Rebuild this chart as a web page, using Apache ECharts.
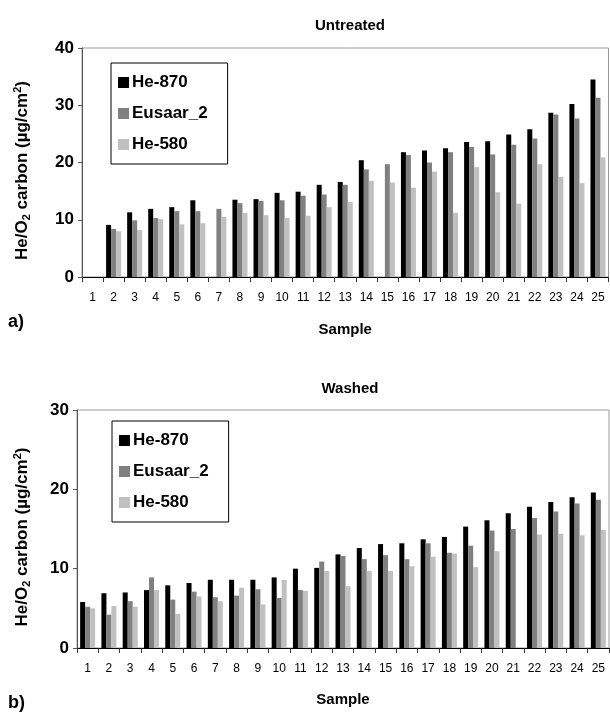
<!DOCTYPE html>
<html>
<head>
<meta charset="utf-8">
<script src="https://cdn.jsdelivr.net/npm/echarts@6/dist/echarts.min.js"></script>
<style>html,body{margin:0;padding:0;background:#fff;}#c{width:610px;height:713px;}</style>
</head>
<body>
<div id="c"></div>
<script>
var categories = ['1','2','3','4','5','6','7','8','9','10','11','12','13','14','15','16','17','18','19','20','21','22','23','24','25'];
var seriesNames = ['He-870', 'Eusaar_2', 'He-580'];
var untreatedHe870 = [null, 9.1, 11.3, 11.9, 12.2, 13.4, null, 13.5, 13.6, 14.7, 14.9, 16.1, 16.6, 20.4, null, 21.8, 22.1, 22.5, 23.6, 23.7, 24.9, 25.8, 28.7, 30.2, 34.5];
var untreatedEusaar2 = [null, 8.4, 9.9, 10.3, 11.5, 11.5, 11.9, 12.9, 13.3, 13.4, 14.2, 14.4, 16.1, 18.8, 19.7, 21.3, 20.0, 21.8, 22.7, 21.4, 23.1, 24.2, 28.4, 27.7, 31.3];
var untreatedHe580 = [null, 8.0, 8.2, 10.1, 9.2, 9.4, 10.5, 11.2, 10.8, 10.3, 10.7, 12.2, 13.1, 16.8, 16.5, 15.6, 18.4, 11.2, 19.2, 14.8, 12.8, 19.7, 17.5, 16.4, 20.9];
var washedHe870 = [5.8, 6.9, 7.0, 7.3, 7.9, 8.2, 8.6, 8.6, 8.6, 8.9, 10.0, 10.1, 11.8, 12.6, 13.1, 13.2, 13.7, 14.0, 15.3, 16.1, 17.0, 17.8, 18.4, 19.0, 19.6];
var washedEusaar2 = [5.2, 4.2, 5.9, 8.9, 6.1, 7.1, 6.4, 6.6, 7.4, 6.3, 7.3, 10.9, 11.6, 11.2, 11.7, 11.2, 13.2, 12.0, 12.9, 14.8, 15.0, 16.4, 17.2, 18.2, 18.7];
var washedHe580 = [5.0, 5.3, 5.2, 7.3, 4.3, 6.5, 5.9, 7.6, 5.5, 8.6, 7.2, 9.7, 7.8, 9.7, 9.7, 10.3, 11.5, 11.9, 10.2, 12.2, null, 14.3, 14.4, 14.2, 14.9];
var yTicksTop = {min: 0, max: 40, interval: 10};
var yTicksBottom = {min: 0, max: 30, interval: 10};

var colors = ['#000000', '#808080', '#c0c0c0'];
var FONT = 'Liberation Sans, Arial, sans-serif';

var chart = echarts.init(document.getElementById('c'), null, {renderer: 'canvas'});

function xAxis(gridIndex, gap) {
  return {
    type: 'category', gridIndex: gridIndex, data: categories, boundaryGap: true,
    axisLine: {lineStyle: {color: '#000', width: 1}},
    axisTick: {show: true, alignWithLabel: false, length: 5, lineStyle: {color: '#333'}},
    axisLabel: {fontFamily: FONT, fontSize: 12, color: '#000', margin: 15, interval: 0},
    name: 'Sample', nameLocation: 'middle', nameGap: gap,
    nameTextStyle: {fontFamily: FONT, fontSize: 15, fontWeight: 'bold', color: '#000'}
  };
}
var yName = 'He/O{sub|2} carbon (\u00b5g/cm{sup|2})';
function yAxis(gridIndex, t, gap) {
  return {
    type: 'value', gridIndex: gridIndex, min: t.min, max: t.max, interval: t.interval,
    splitLine: {show: false},
    axisLine: {show: true, lineStyle: {color: '#555', width: 1}},
    axisTick: {show: true, length: 4, lineStyle: {color: '#555'}},
    axisLabel: {fontFamily: FONT, fontSize: 17, fontWeight: 'bold', color: '#000', margin: 8},
    name: yName, nameLocation: 'middle', nameGap: gap, nameRotate: 90,
    nameTextStyle: {
      fontFamily: FONT, fontSize: 17, fontWeight: 'bold', color: '#000', padding: [0, 16, 0, 0],
      rich: {
        sub: {fontFamily: FONT, fontSize: 11, fontWeight: 'bold', color: '#000', verticalAlign: 'bottom', padding: [9, 0, 0, 0]},
        sup: {fontFamily: FONT, fontSize: 11, fontWeight: 'bold', color: '#000', verticalAlign: 'top', padding: [0, 0, 9, 0]}
      }
    }
  };
}
function bar(name, data, idx, axisIdx) {
  return {
    type: 'bar', name: name, data: data, xAxisIndex: axisIdx, yAxisIndex: axisIdx,
    barWidth: 5, barGap: '0%', itemStyle: {color: colors[idx]}, animation: false
  };
}
function legend(left, top) {
  return {
    data: seriesNames, orient: 'vertical', left: left, top: top,
    backgroundColor: '#fff', borderColor: '#000', borderWidth: 1,
    padding: [11, 20, 11, 7], itemGap: 14, itemWidth: 11, itemHeight: 11,
    icon: 'rect', selectedMode: false,
    textStyle: {fontFamily: FONT, fontSize: 17, fontWeight: 'bold', color: '#000', padding: [0, 0, 0, -2]}
  };
}

chart.setOption({
  animation: false,
  backgroundColor: '#fff',
  title: [
    {text: 'Untreated', left: 345, top: 13, textAlign: 'center', textStyle: {fontFamily: FONT, fontSize: 15, fontWeight: 'bold', color: '#000'}},
    {text: 'Washed', left: 345, top: 376, textAlign: 'center', textStyle: {fontFamily: FONT, fontSize: 15, fontWeight: 'bold', color: '#000'}}
  ],
  grid: [
    {left: 82, top: 48, width: 526.5, height: 229, show: true, borderColor: '#999', borderWidth: 1, containLabel: false},
    {left: 77, top: 410, width: 532, height: 238, show: true, borderColor: '#999', borderWidth: 1, containLabel: false}
  ],
  legend: [legend(111, 63), legend(112, 421)],
  xAxis: [xAxis(0, 45), xAxis(1, 44)],
  yAxis: [yAxis(0, yTicksTop, 50), yAxis(1, yTicksBottom, 45)],
  graphic: [
    {type: 'text', left: 8, top: 313, style: {text: 'a)', font: 'bold 18px ' + FONT, fill: '#000'}},
    {type: 'text', left: 8, top: 694, style: {text: 'b)', font: 'bold 18px ' + FONT, fill: '#000'}}
  ],
  series: [
    bar(seriesNames[0], untreatedHe870, 0, 0),
    bar(seriesNames[1], untreatedEusaar2, 1, 0),
    bar(seriesNames[2], untreatedHe580, 2, 0),
    bar(seriesNames[0], washedHe870, 0, 1),
    bar(seriesNames[1], washedEusaar2, 1, 1),
    bar(seriesNames[2], washedHe580, 2, 1)
  ]
});
</script>
</body>
</html>
